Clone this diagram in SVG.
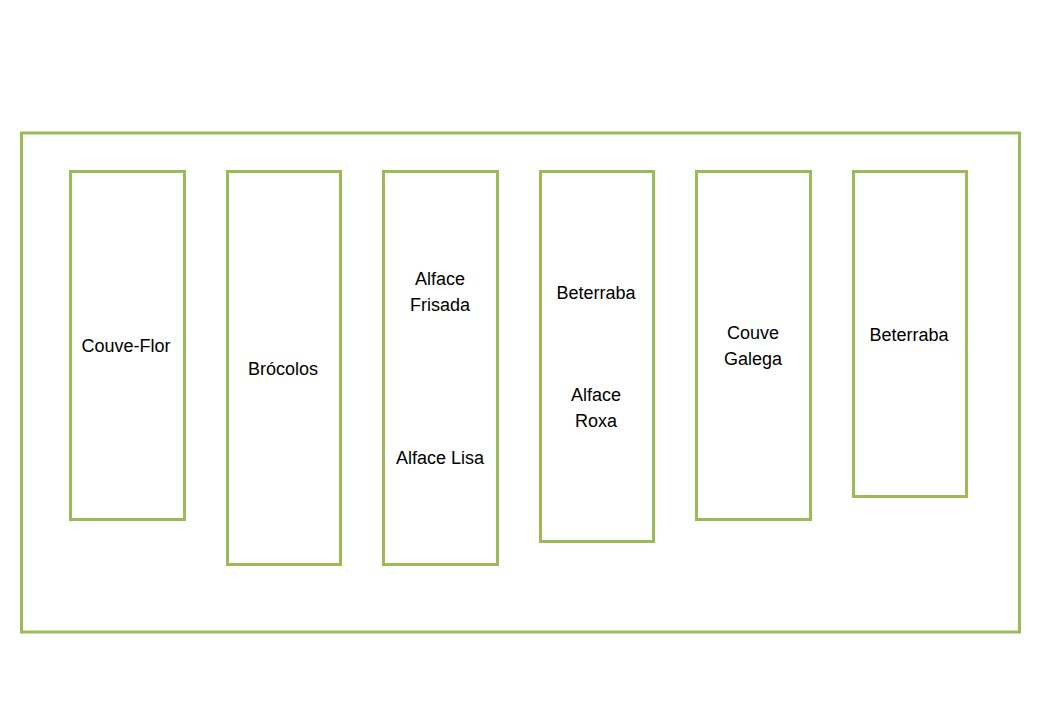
<svg xmlns="http://www.w3.org/2000/svg" width="1040" height="720" viewBox="0 0 1040 720">
<style>
.box{fill:#fff;stroke:#9BBB59;stroke-width:3}
.t{font-family:"Liberation Sans",Arial,sans-serif;font-size:18px;fill:#000;text-anchor:middle}
</style>
<rect width="1040" height="720" fill="#fff"/>
<g id="canteiro"><rect class="box" x="21.5" y="133" width="998" height="499"/></g>
<g id="couve-flor"><rect class="box" x="70.5" y="171.5" width="114" height="348"/><text class="t" x="126" y="352">Couve-Flor</text></g>
<g id="brocolos"><rect class="box" x="227.5" y="171.5" width="113" height="393"/><text class="t" x="283" y="375">Brócolos</text></g>
<g id="alface"><rect class="box" x="383.5" y="171.5" width="114" height="393"/><text class="t" x="440" y="285">Alface</text><text class="t" x="440" y="311">Frisada</text><text class="t" x="440" y="464">Alface Lisa</text></g>
<g id="beterraba-roxa"><rect class="box" x="540.5" y="171.5" width="113" height="370"/><text class="t" x="596" y="299">Beterraba</text><text class="t" x="596" y="401">Alface</text><text class="t" x="596" y="427">Roxa</text></g>
<g id="couve-galega"><rect class="box" x="696.5" y="171.5" width="114" height="348"/><text class="t" x="753" y="339">Couve</text><text class="t" x="753" y="365">Galega</text></g>
<g id="beterraba"><rect class="box" x="853.5" y="171.5" width="113" height="325"/><text class="t" x="909" y="341">Beterraba</text></g>
<g id="connectors"></g>
</svg>
